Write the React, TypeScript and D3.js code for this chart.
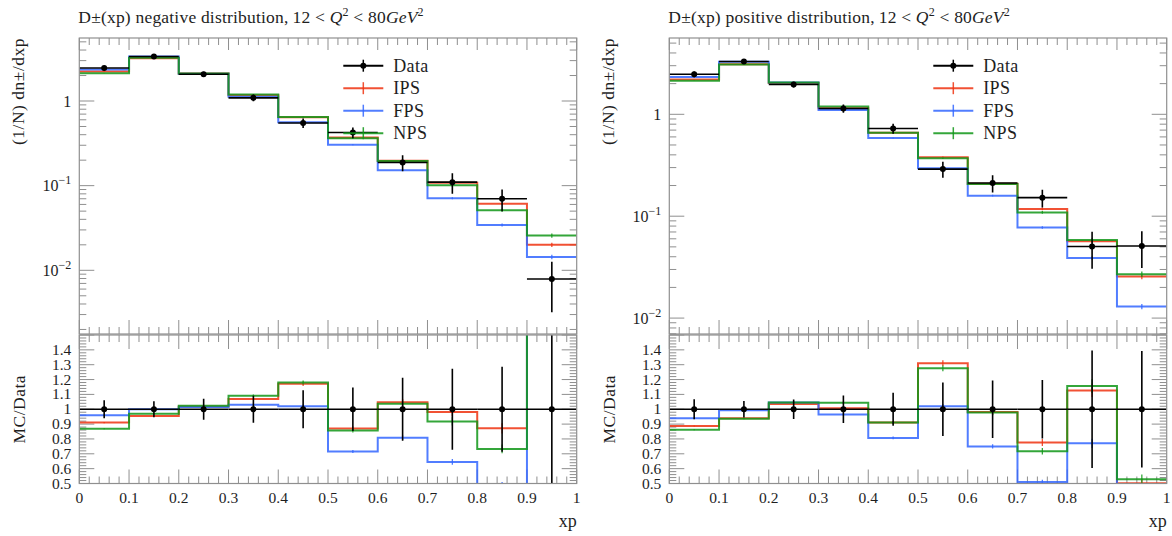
import React from 'react';
import * as d3 from 'd3';

// ---------- data ----------
const binEdges = [0, 0.1, 0.2, 0.3, 0.4, 0.5, 0.6, 0.7, 0.8, 0.9, 1.0];
const xMajorTicks = [0, 0.1, 0.2, 0.3, 0.4, 0.5, 0.6, 0.7, 0.8, 0.9, 1.0];
const xTickLabels = ['0', '0.1', '0.2', '0.3', '0.4', '0.5', '0.6', '0.7', '0.8', '0.9', '1'];
const ratioTickValues = [0.5, 0.6, 0.7, 0.8, 0.9, 1.0, 1.1, 1.2, 1.3, 1.4];
const ratioTickLabels = ['0.5', '0.6', '0.7', '0.8', '0.9', '1', '1.1', '1.2', '1.3', '1.4'];
const logTickValues = [1, 0.1, 0.01];
const logTickExponents = ['0', '−1', '−2'];
const legendLabels = ['Data', 'IPS', 'FPS', 'NPS'];

// negative distribution
const negData = [2.45, 3.35, 2.07, 1.09, 0.55, 0.425, 0.188, 0.11, 0.07, 0.0079];
const negDataErr = [0.15, 0.18, 0.145, 0.1, 0.07, 0.062, 0.04, 0.03, 0.02, 0.0047];
const negIPS = [2.23, 3.2, 2.11, 1.166, 0.644, 0.37, 0.197, 0.108, 0.061, 0.02];
const negFPS = [2.35, 3.35, 2.1, 1.123, 0.561, 0.304, 0.152, 0.071, 0.0343, 0.0144];
const negNPS = [2.13, 3.25, 2.12, 1.19, 0.649, 0.364, 0.195, 0.101, 0.0513, 0.0257];

// positive distribution
const posData = [2.47, 3.3, 1.96, 1.14, 0.725, 0.29, 0.212, 0.152, 0.0505, 0.051];
const posDataErr = [0.165, 0.185, 0.13, 0.105, 0.081, 0.052, 0.041, 0.03, 0.02, 0.02];
const posIPS = [2.19, 3.1, 2.03, 1.148, 0.66, 0.38, 0.208, 0.118, 0.0569, 0.0256];
const posFPS = [2.32, 3.28, 2.05, 1.1, 0.585, 0.296, 0.159, 0.0775, 0.0389, 0.013];
const posNPS = [2.13, 3.09, 2.05, 1.19, 0.66, 0.37, 0.2075, 0.109, 0.0584, 0.027];

// relative statistical uncertainty of the MC samples per bin
const mcRelErr = [0.004, 0.004, 0.005, 0.007, 0.012, 0.015, 0.02, 0.03, 0.04, 0.06];

const negTitle = 'D±(xp) negative distribution,';
const posTitle = 'D±(xp) positive distribution,';

// ---------- layout ----------
const W = 1172;
const H = 536;
const MAIN_TOP = 38;
const MAIN_BOTTOM = 334;
const RATIO_TOP = 335;
const RATIO_BOTTOM = 483.5;
const FONT = "'Liberation Serif', 'DejaVu Serif', serif";
const FRAME = '#8f8f8f';
const TEXT = '#1e1e1e';
const COLORS = { ips: '#EE3311', fps: '#3366FF', nps: '#109618' };

type PanelProps = {
  id: string;
  x0: number;
  x1: number;
  logDomain: [number, number];
  title: string;
  data: number[];
  dataErr: number[];
  ips: number[];
  fps: number[];
  nps: number[];
};

function Panel(p: PanelProps) {
  const x = d3.scaleLinear().domain([0, 1]).range([p.x0, p.x1]);
  const y = d3.scaleLog().domain(p.logDomain).range([MAIN_BOTTOM, MAIN_TOP]);
  const r = d3.scaleLinear().domain([0.5, 1.5]).range([RATIO_BOTTOM, RATIO_TOP]);
  const centers = binEdges.slice(0, -1).map((e, i) => (e + binEdges[i + 1]) / 2);

  const step = (vals: number[], ys: (v: number) => number) =>
    d3
      .line<[number, number]>()
      .x((d) => x(d[0]))
      .y((d) => ys(d[1]))(
      vals.flatMap((v, i) => [
        [binEdges[i], v],
        [binEdges[i + 1], v],
      ]) as [number, number][]
    ) || '';

  const series = [
    { key: 'ips', vals: p.ips, color: COLORS.ips },
    { key: 'fps', vals: p.fps, color: COLORS.fps },
    { key: 'nps', vals: p.nps, color: COLORS.nps },
  ];

  const xMinor = d3
    .range(0, 1.0001, 0.02)
    .filter((v) => Math.abs(v * 10 - Math.round(v * 10)) > 1e-6);
  const [lo, hi] = p.logDomain;
  const logMinor: number[] = [];
  for (let k = -4; k <= 1; k++) {
    for (let m = 2; m <= 9; m++) {
      const v = m * Math.pow(10, k);
      if (v > lo && v < hi) logMinor.push(v);
    }
  }
  const rMinor = d3
    .range(0.5, 1.5001, 0.02)
    .filter((v) => Math.abs(v * 10 - Math.round(v * 10)) > 1e-6);
  const rMajor = d3.range(0.5, 1.5001, 0.1);

  const MAJ = 14;
  const MIN = 7;
  const tickStyle = { stroke: FRAME, strokeWidth: 1 };

  const clipMain = `clip-main-${p.id}`;
  const clipRatio = `clip-ratio-${p.id}`;

  const legendX = p.x0 + 264;
  const legendY = [65.7, 88.2, 110.7, 133.2];
  const legendColors = ['#000', COLORS.ips, COLORS.fps, COLORS.nps];

  return (
    <g>
      <defs>
        <clipPath id={clipMain}>
          <rect x={p.x0} y={MAIN_TOP} width={p.x1 - p.x0} height={MAIN_BOTTOM - MAIN_TOP} />
        </clipPath>
        <clipPath id={clipRatio}>
          <rect x={p.x0} y={RATIO_TOP} width={p.x1 - p.x0} height={RATIO_BOTTOM - RATIO_TOP} />
        </clipPath>
      </defs>

      {/* title */}
      <text x={p.x0 - 1} y={23} fontSize={17.5} letterSpacing={0.2} fill={TEXT}>
        {p.title}
        <tspan dx={4}>12 &lt; </tspan>
        <tspan fontStyle="italic">Q</tspan>
        <tspan dy={-7} fontSize={12}>2</tspan>
        <tspan dy={7}> &lt; 80</tspan>
        <tspan fontStyle="italic">GeV</tspan>
        <tspan dy={-7} fontSize={12}>2</tspan>
      </text>

      {/* axis titles */}
      <text
        transform={`translate(${p.x0 - 61},${MAIN_TOP}) rotate(-90)`}
        textAnchor="end"
        dy={6}
        fontSize={17.5}
        letterSpacing={0.5}
        fill={TEXT}
      >
        (1/N) dn±/dxp
      </text>
      <text
        transform={`translate(${p.x0 - 60},${r(1)}) rotate(-90)`}
        textAnchor="middle"
        dy={6}
        fontSize={17.5}
        letterSpacing={0.5}
        fill={TEXT}
      >
        MC/Data
      </text>
      <text x={p.x1} y={527} textAnchor="end" fontSize={18} fill={TEXT}>
        xp
      </text>

      {/* ticks */}
      {xMajorTicks.map((t) => (
        <g key={'xm' + t}>
          <line x1={x(t)} x2={x(t)} y1={MAIN_TOP} y2={MAIN_TOP + MAJ - 2} {...tickStyle} />
          <line x1={x(t)} x2={x(t)} y1={MAIN_BOTTOM} y2={MAIN_BOTTOM - MAJ} {...tickStyle} />
          <line x1={x(t)} x2={x(t)} y1={RATIO_TOP} y2={RATIO_TOP + MAJ} {...tickStyle} />
          <line x1={x(t)} x2={x(t)} y1={RATIO_BOTTOM} y2={RATIO_BOTTOM - MAJ} {...tickStyle} />
        </g>
      ))}
      {xMinor.map((t) => (
        <g key={'xn' + t}>
          <line x1={x(t)} x2={x(t)} y1={MAIN_TOP} y2={MAIN_TOP + MIN} {...tickStyle} />
          <line x1={x(t)} x2={x(t)} y1={MAIN_BOTTOM} y2={MAIN_BOTTOM - MIN} {...tickStyle} />
          <line x1={x(t)} x2={x(t)} y1={RATIO_TOP} y2={RATIO_TOP + MIN} {...tickStyle} />
          <line x1={x(t)} x2={x(t)} y1={RATIO_BOTTOM} y2={RATIO_BOTTOM - MIN} {...tickStyle} />
        </g>
      ))}
      {logTickValues.map((t) => (
        <g key={'ly' + t}>
          <line x1={p.x0} x2={p.x0 + MAJ + 1} y1={y(t)} y2={y(t)} {...tickStyle} />
          <line x1={p.x1} x2={p.x1 - MAJ - 1} y1={y(t)} y2={y(t)} {...tickStyle} />
        </g>
      ))}
      {logMinor.map((t) => (
        <g key={'lm' + t}>
          <line x1={p.x0} x2={p.x0 + MIN} y1={y(t)} y2={y(t)} {...tickStyle} />
          <line x1={p.x1} x2={p.x1 - MIN} y1={y(t)} y2={y(t)} {...tickStyle} />
        </g>
      ))}
      {rMajor.map((t) => (
        <g key={'rM' + t}>
          <line x1={p.x0} x2={p.x0 + MAJ + 1} y1={r(t)} y2={r(t)} {...tickStyle} />
          <line x1={p.x1} x2={p.x1 - MAJ - 1} y1={r(t)} y2={r(t)} {...tickStyle} />
        </g>
      ))}
      {rMinor.map((t) => (
        <g key={'rm' + t}>
          <line x1={p.x0} x2={p.x0 + MIN} y1={r(t)} y2={r(t)} {...tickStyle} />
          <line x1={p.x1} x2={p.x1 - MIN} y1={r(t)} y2={r(t)} {...tickStyle} />
        </g>
      ))}

      {/* tick labels */}
      {logTickValues.map((t, i) =>
        t === 1 ? (
          <text key={'lt' + t} x={p.x0 - 8} y={y(t) + 5.5} textAnchor="end" fontSize={16} fill={TEXT}>
            1
          </text>
        ) : (
          <text key={'lt' + t} x={p.x0 - 8} y={y(t) + 5.5} textAnchor="end" fontSize={16} fill={TEXT}>
            10
            <tspan dy={-7} fontSize={12}>
              {logTickExponents[i]}
            </tspan>
          </text>
        )
      )}
      {ratioTickValues.map((t, i) => (
        <text key={'rt' + t} x={p.x0 - 8} y={r(t) + 5} textAnchor="end" fontSize={15.5} fill={TEXT}>
          {ratioTickLabels[i]}
        </text>
      ))}
      {xMajorTicks.map((t, i) => (
        <text key={'xt' + t} x={x(t)} y={503} textAnchor="middle" fontSize={15.5} fill={TEXT}>
          {xTickLabels[i]}
        </text>
      ))}

      {/* main histograms */}
      <g clipPath={`url(#${clipMain})`}>
        {series.map((s) => (
          <g key={s.key} stroke={s.color} strokeOpacity={0.85} fill="none" strokeWidth={2}>
            <path d={step(s.vals, y)} />
            {s.vals.map((v, i) => (
              <line
                key={i}
                x1={x(centers[i])}
                x2={x(centers[i])}
                y1={y(v * (1 - mcRelErr[i]))}
                y2={y(v * (1 + mcRelErr[i]))}
                strokeWidth={1.3}
              />
            ))}
          </g>
        ))}
        <g stroke="#000" strokeWidth={1.6}>
          {p.data.map((v, i) => (
            <g key={i}>
              <line x1={x(binEdges[i])} x2={x(binEdges[i + 1])} y1={y(v)} y2={y(v)} />
              <line
                x1={x(centers[i])}
                x2={x(centers[i])}
                y1={y(v - p.dataErr[i])}
                y2={y(v + p.dataErr[i])}
              />
              <circle cx={x(centers[i])} cy={y(v)} r={3} fill="#000" stroke="none" />
            </g>
          ))}
        </g>
      </g>

      {/* ratio histograms */}
      <g clipPath={`url(#${clipRatio})`}>
        {series.map((s) => {
          const ratios = s.vals.map((v, i) => v / p.data[i]);
          return (
            <g key={s.key} stroke={s.color} strokeOpacity={0.85} fill="none" strokeWidth={2}>
              <path d={step(ratios, r)} />
              {ratios.map((v, i) => (
                <line
                  key={i}
                  x1={x(centers[i])}
                  x2={x(centers[i])}
                  y1={r(v * (1 - mcRelErr[i]))}
                  y2={r(v * (1 + mcRelErr[i]))}
                  strokeWidth={1.3}
                />
              ))}
            </g>
          );
        })}
        <g stroke="#000" strokeWidth={1.6}>
          {p.data.map((v, i) => (
            <g key={i}>
              <line x1={x(binEdges[i])} x2={x(binEdges[i + 1])} y1={r(1)} y2={r(1)} />
              <line
                x1={x(centers[i])}
                x2={x(centers[i])}
                y1={r(1 - p.dataErr[i] / v)}
                y2={r(1 + p.dataErr[i] / v)}
              />
              <circle cx={x(centers[i])} cy={r(1)} r={3} fill="#000" stroke="none" />
            </g>
          ))}
        </g>
      </g>

      {/* frames */}
      <rect x={p.x0} y={MAIN_TOP} width={p.x1 - p.x0} height={MAIN_BOTTOM - MAIN_TOP} fill="none" stroke={FRAME} strokeWidth={1.2} />
      <rect x={p.x0} y={RATIO_TOP} width={p.x1 - p.x0} height={RATIO_BOTTOM - RATIO_TOP} fill="none" stroke={FRAME} strokeWidth={1.2} />

      {/* legend */}
      {legendLabels.map((lab, i) => (
        <g key={lab}>
          <line x1={legendX} x2={legendX + 40} y1={legendY[i]} y2={legendY[i]} stroke={legendColors[i]} strokeOpacity={i === 0 ? 1 : 0.85} strokeWidth={2} />
          <line x1={legendX + 20} x2={legendX + 20} y1={legendY[i] - 6} y2={legendY[i] + 6} stroke={legendColors[i]} strokeOpacity={i === 0 ? 1 : 0.85} strokeWidth={1.5} />
          {i === 0 && <circle cx={legendX + 20} cy={legendY[i]} r={3} fill="#000" />}
          <text x={legendX + 50} y={legendY[i] + 6} fontSize={18} letterSpacing={0.3} fill={TEXT}>
            {lab}
          </text>
        </g>
      ))}
    </g>
  );
}

export default function App() {
  return (
    <svg
      width={W}
      height={H}
      style={{ position: 'absolute', left: 0, top: 0, background: '#fff' }}
      fontFamily={FONT}
    >
      <rect width={W} height={H} fill="#fff" />
      <Panel
        id="neg"
        x0={79.3}
        x1={576.7}
        logDomain={[0.001768, 5.55]}
        title={negTitle}
        data={negData}
        dataErr={negDataErr}
        ips={negIPS}
        fps={negFPS}
        nps={negNPS}
      />
      <Panel
        id="pos"
        x0={669.3}
        x1={1166.7}
        logDomain={[0.00698, 5.61]}
        title={posTitle}
        data={posData}
        dataErr={posDataErr}
        ips={posIPS}
        fps={posFPS}
        nps={posNPS}
      />
    </svg>
  );
}
